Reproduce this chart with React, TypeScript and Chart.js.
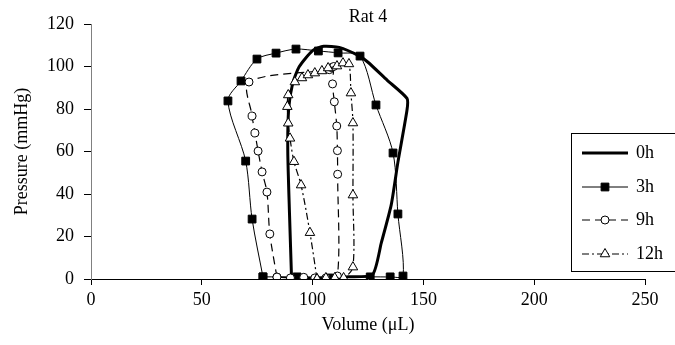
import { useEffect, useRef } from "react";
import { Chart, registerables } from "chart.js";

Chart.register(...registerables);

// ---- data ----
const chartTitle = "Rat 4";
const xAxisTitle = "Volume (μL)";
const yAxisTitle = "Pressure (mmHg)";
const xTicks = [0, 50, 100, 150, 200, 250];
const yTicks = [0, 20, 40, 60, 80, 100, 120];
const seriesNames = ["0h", "3h", "9h", "12h"];

const vol0 = [90.5, 89.6, 88.8, 89.2, 91, 94, 100, 105, 112, 121, 125, 133.6, 142.6, 142.6, 138.5, 135.5, 131, 127, 115, 100, 90.5];
const pres0 = [0.5, 30, 60, 80, 92, 100, 107.5, 109.5, 109, 105, 102, 93.6, 85, 79.5, 55, 35, 17, 2, 1, 0.5, 0.5];

const vol3 = [77.6, 72.7, 69.8, 61.8, 67.7, 74.9, 83.5, 92.5, 102.6, 111.5, 121.4, 128.6, 136.3, 138.5, 140.8, 135, 126, 107.4, 93, 77.6];
const pres3 = [1, 28.2, 55.5, 83.8, 93.2, 103.5, 106.3, 108.2, 107.3, 106.4, 104.9, 81.9, 59.3, 30.6, 1.4, 1, 1, 0.5, 1, 1];

const vol9 = [83.9, 80.7, 79.4, 77.2, 75.4, 74.0, 72.7, 71.3, 107.5, 108.5, 109.5, 109.0, 109.8, 110.9, 111.2, 111.3, 111.2, 106, 101, 96, 90, 83.9];
const pres9 = [0.9, 21.2, 40.9, 50.4, 60.2, 68.7, 76.7, 92.7, 98.5, 99.5, 100, 91.8, 83.4, 72, 60.4, 49.3, 1.4, 0.5, 0.5, 0.8, 0.5, 0.9];

const vol12 = [102, 98.8, 94.8, 91.6, 89.8, 89, 88.6, 89, 92, 95.2, 97.9, 101, 104.2, 107, 111, 113.7, 116.4, 117.3, 118.2, 118.2, 118.2, 114, 110, 106, 102];
const pres12 = [0, 21.8, 44.2, 55.2, 66.2, 73.3, 81.1, 86.6, 92.7, 94.6, 96, 96.9, 97.9, 99.3, 100.2, 101.6, 101.2, 87.5, 73.4, 39.5, 5.6, 0.5, 0.5, 0.5, 0];

const FONT = "'Liberation Serif', 'Times New Roman', serif";

type Marker = "none" | "rect" | "circle" | "triangle";
const styles: { width: number; dash: number[]; marker: Marker; radius: number; fill: string; tension: number }[] = [
  { width: 3, dash: [], marker: "none", radius: 0, fill: "#000", tension: 0.2 },
  { width: 1, dash: [], marker: "rect", radius: 5.5, fill: "#000", tension: 0.3 },
  { width: 1.2, dash: [8, 5], marker: "circle", radius: 4, fill: "#fff", tension: 0.3 },
  { width: 1.2, dash: [7, 3, 2, 3], marker: "triangle", radius: 5.5, fill: "#fff", tension: 0.3 },
];

const toPoints = (xs: number[], ys: number[]) => xs.map((x, i) => ({ x, y: ys[i] }));

function drawMarker(ctx: CanvasRenderingContext2D, m: Marker, x: number, y: number, r: number, fill: string) {
  if (m === "none") return;
  ctx.save();
  ctx.setLineDash([]);
  ctx.lineWidth = 1;
  ctx.strokeStyle = "#000";
  ctx.fillStyle = fill;
  ctx.beginPath();
  if (m === "rect") {
    const s = Math.SQRT1_2 * r;
    ctx.rect(x - s, y - s, 2 * s, 2 * s);
  } else if (m === "circle") {
    ctx.arc(x, y, r, 0, Math.PI * 2);
  } else {
    ctx.moveTo(x, y - r);
    ctx.lineTo(x + Math.sin(Math.PI / 3) * r, y + r / 2);
    ctx.lineTo(x - Math.sin(Math.PI / 3) * r, y + r / 2);
    ctx.closePath();
  }
  ctx.fill();
  ctx.stroke();
  ctx.restore();
}

const textPlugin = {
  id: "texts",
  afterDraw(chart: any) {
    const ctx: CanvasRenderingContext2D = chart.ctx;
    const area = chart.chartArea;
    const cx = (area.left + area.right) / 2;
    ctx.save();
    ctx.fillStyle = "#000";
    ctx.textAlign = "center";
    ctx.textBaseline = "middle";
    ctx.font = `18px ${FONT}`;
    ctx.fillText(chartTitle, cx, 17);
    ctx.fillText(xAxisTitle, cx, 325);
    ctx.save();
    ctx.translate(22, (area.top + area.bottom) / 2);
    ctx.rotate(-Math.PI / 2);
    ctx.fillText(yAxisTitle, 0, 0);
    ctx.restore();

    // legend
    const bx = 571, by = 133, bw = 110, bh = 138;
    ctx.fillStyle = "#fff";
    ctx.fillRect(bx, by, bw, bh);
    ctx.strokeStyle = "#000";
    ctx.lineWidth = 1;
    ctx.strokeRect(bx + 0.5, by + 0.5, bw, bh);
    const rows = [153, 187, 220, 254];
    seriesNames.forEach((name, i) => {
      const st = styles[i];
      const y = rows[i];
      ctx.save();
      ctx.strokeStyle = "#000";
      ctx.lineWidth = st.width;
      ctx.setLineDash(st.dash);
      ctx.beginPath();
      ctx.moveTo(582, y);
      ctx.lineTo(628, y);
      ctx.stroke();
      ctx.restore();
      drawMarker(ctx, st.marker, 605, y, st.radius, st.fill);
      ctx.fillStyle = "#000";
      ctx.textAlign = "left";
      ctx.font = `18px ${FONT}`;
      ctx.fillText(name, 636, y);
    });
    ctx.restore();
  },
};

export default function App() {
  const ref = useRef<HTMLCanvasElement>(null);
  useEffect(() => {
    document.body.style.margin = "0";
    const series = [toPoints(vol0, pres0), toPoints(vol3, pres3), toPoints(vol9, pres9), toPoints(vol12, pres12)];
    const chart = new Chart(ref.current!, {
      type: "scatter",
      data: {
        datasets: series.map((data, i) => ({
          label: seriesNames[i],
          data,
          showLine: true,
          borderColor: "#000",
          borderWidth: styles[i].width,
          borderDash: styles[i].dash,
          tension: styles[i].tension,
          pointStyle: styles[i].marker === "none" ? false : styles[i].marker,
          pointRadius: styles[i].marker === "none" ? 0 : styles[i].radius,
          pointBackgroundColor: styles[i].fill,
          pointBorderColor: "#000",
          pointBorderWidth: 1,
          order: 4 - i,
        })) as any,
      },
      options: {
        animation: false,
        responsive: false,
        devicePixelRatio: 1,
        layout: { padding: { top: 24, right: 30, left: 0, bottom: 0 } },
        plugins: { legend: { display: false }, tooltip: { enabled: false }, title: { display: false } },
        scales: {
          x: {
            type: "linear",
            min: 0,
            max: 250,
            afterBuildTicks: (s: any) => { s.ticks = xTicks.map((v) => ({ value: v })); },
            ticks: { color: "#000", font: { family: FONT, size: 18 }, padding: 4, maxRotation: 0 },
            grid: { drawOnChartArea: false, drawTicks: true, tickLength: 6, color: "#000" },
            border: { color: "#000", width: 1 },
            afterFit: (s: any) => { s.height = 66; },
          },
          y: {
            type: "linear",
            min: 0,
            max: 120,
            afterBuildTicks: (s: any) => { s.ticks = yTicks.map((v) => ({ value: v })); },
            ticks: { color: "#000", font: { family: FONT, size: 18 }, padding: 10 },
            grid: { drawOnChartArea: false, drawTicks: true, tickLength: 7, color: "#000" },
            border: { color: "#808080", width: 1 },
            afterFit: (s: any) => { s.width = 91; },
          },
        },
      } as any,
      plugins: [textPlugin],
    });
    return () => chart.destroy();
  }, []);
  return (
    <div style={{ position: "absolute", left: 0, top: 0, width: 675, height: 345 }}>
      <canvas ref={ref} width={675} height={345} />
    </div>
  );
}
